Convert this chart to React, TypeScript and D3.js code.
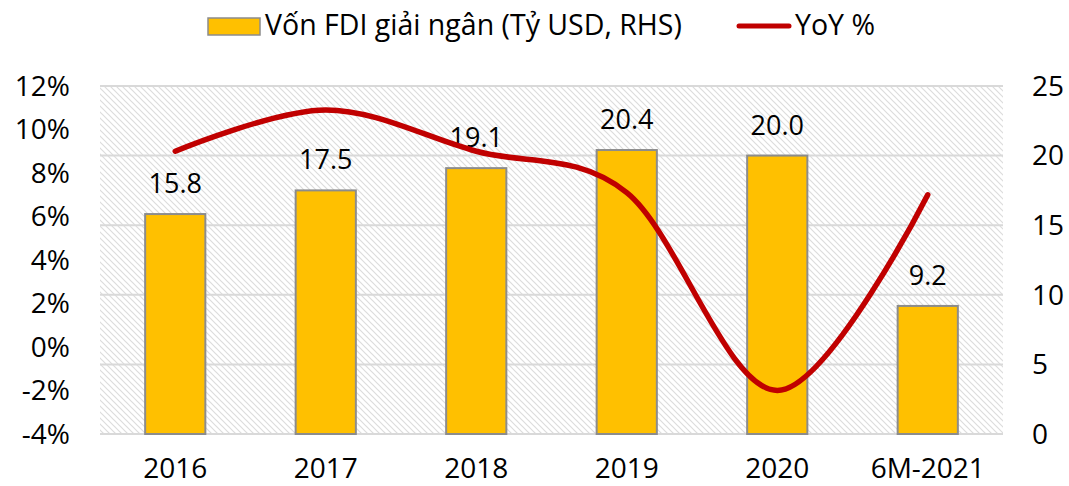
import React, { useEffect } from 'react';
import * as d3 from 'd3';

const categories = ['2016', '2017', '2018', '2019', '2020', '6M-2021'];
const fdiValues = [15.8, 17.5, 19.1, 20.4, 20.0, 9.2];
const yoyValues = [9.0, 10.9, 9.0, 7.1, -2.0, 7.0];
const leftTicks = [-4, -2, 0, 2, 4, 6, 8, 10, 12];
const rightTicks = [0, 5, 10, 15, 20, 25];

const W = 1069;
const H = 486;
const margin = { top: 86, right: 66, bottom: 52, left: 100 };
const FONT = '"Open Sans", "Noto Sans", sans-serif';

const App = () => {
  useEffect(() => {
    document.body.style.margin = '0';
  }, []);

  const x = d3.scaleBand()
    .domain(categories)
    .range([margin.left, W - margin.right])
    .paddingInner(0.6)
    .paddingOuter(0.3);

  const yR = d3.scaleLinear().domain([0, 25]).range([H - margin.bottom, margin.top]);
  const yL = d3.scaleLinear().domain([-4, 12]).range([H - margin.bottom, margin.top]);

  const line = d3.line<number>()
    .x((_, i) => x(categories[i])! + x.bandwidth() / 2)
    .y(d => yL(d))
    .curve(d3.curveCatmullRom.alpha(0));

  const x0 = margin.left;
  const x1 = W - margin.right;

  return (
    <svg width={W} height={H} style={{ display: 'block', background: '#fff' }} fontFamily={FONT}>
      <defs>
        <pattern id="hatch" width="6" height="6" patternUnits="userSpaceOnUse">
          <path d="M-1,-1 L7,7 M-1,5 L1,7 M5,-1 L7,1" stroke="#dcdcdc" strokeWidth="1.2" />
        </pattern>
      </defs>

      {/* plot background */}
      <rect x={x0} y={margin.top} width={x1 - x0} height={H - margin.bottom - margin.top} fill="url(#hatch)" />

      {/* gridlines from right axis */}
      {rightTicks.map(t => (
        <line key={t} x1={x0} x2={x1} y1={yR(t)} y2={yR(t)} stroke="#d9d9d9" strokeWidth={2} />
      ))}

      {/* bars */}
      {fdiValues.map((v, i) => (
        <rect
          key={categories[i]}
          x={x(categories[i])}
          y={yR(v)}
          width={x.bandwidth()}
          height={yR(0) - yR(v)}
          fill="#FFC000"
          stroke="#8c8c8c"
          strokeWidth={2}
        />
      ))}

      {/* bar labels */}
      {fdiValues.map((v, i) => (
        <text
          key={'l' + i}
          x={x(categories[i])! + x.bandwidth() / 2}
          y={yR(v) - 21}
          textAnchor="middle"
          fontSize={27}
          fill="#000"
        >
          {v.toFixed(1)}
        </text>
      ))}

      {/* yoy line */}
      <path d={line(yoyValues) || ''} fill="none" stroke="#C00000" strokeWidth={5.5} strokeLinecap="round" />

      {/* left axis */}
      {leftTicks.map(t => (
        <text key={'L' + t} x={70} y={yL(t)} dy="0.35em" textAnchor="end" fontSize={28}>
          {t + '%'}
        </text>
      ))}

      {/* right axis */}
      {rightTicks.map(t => (
        <text key={'R' + t} x={1032} y={yR(t)} dy="0.35em" textAnchor="start" fontSize={28}>
          {t}
        </text>
      ))}

      {/* x axis labels */}
      {categories.map(c => (
        <text key={'x' + c} x={x(c)! + x.bandwidth() / 2} y={478} textAnchor="middle" fontSize={28}>
          {c}
        </text>
      ))}

      {/* legend */}
      <rect x={208} y={18} width={52} height={17} fill="#FFC000" stroke="#8c8c8c" strokeWidth={1.5} />
      <text x={265} y={35} fontSize={28.5}>Vốn FDI giải ngân (Tỷ USD, RHS)</text>
      <line x1={739} x2={789} y1={26} y2={26} stroke="#C00000" strokeWidth={5} strokeLinecap="round" />
      <text x={795} y={35} fontSize={28.5}>YoY %</text>
    </svg>
  );
};

export default App;
